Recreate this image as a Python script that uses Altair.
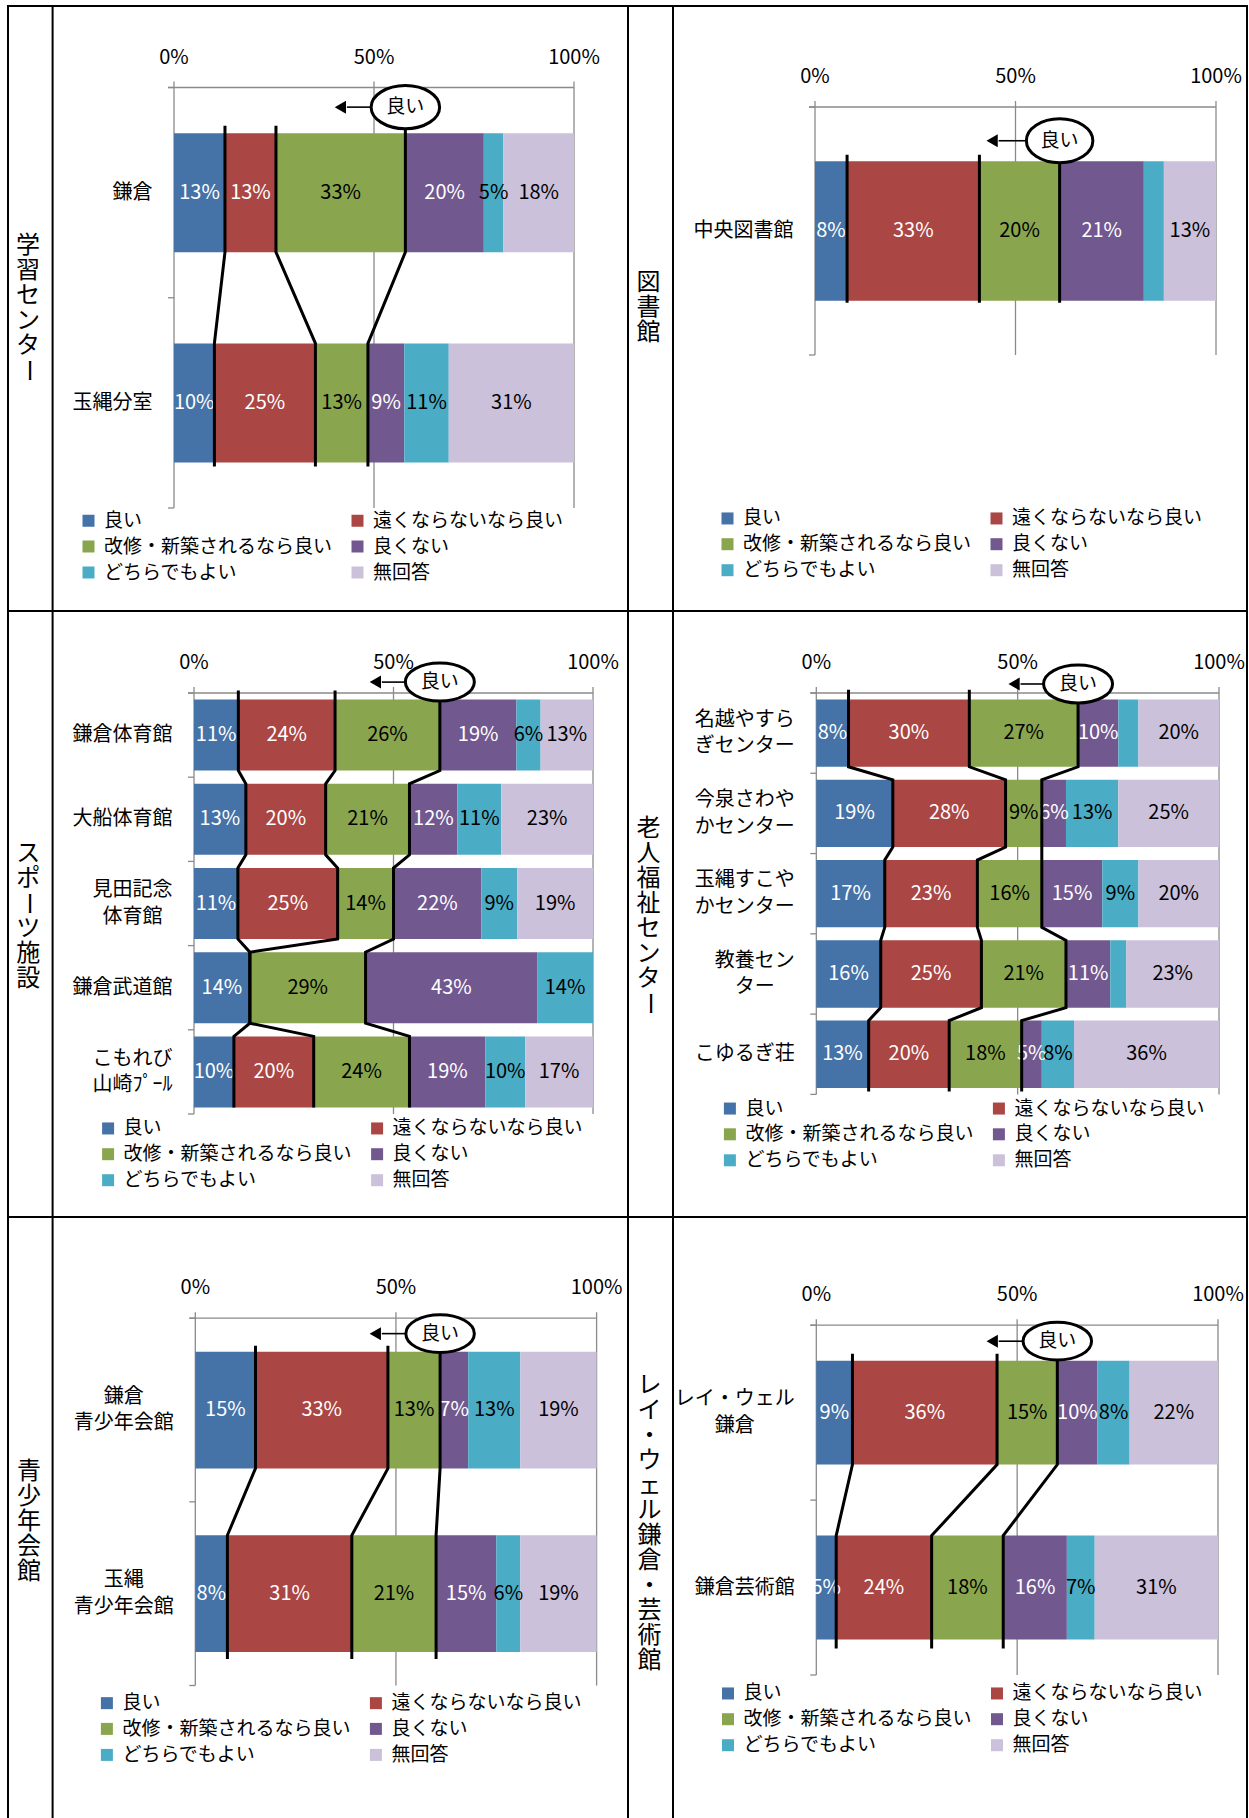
import altair as alt
import pandas as pd

FONT = "Noto Sans CJK JP"

# ---------------- data ----------------
CATEGORIES = ["良い", "遠くならないなら良い", "改修・新築されるなら良い", "良くない", "どちらでもよい", "無回答"]
COLORS = ["#4572A7", "#AA4643", "#89A54E", "#71588F", "#4BACC6", "#CCC1DA"]
LABEL_COLORS = ["white", "white", "black", "white", "black", "black"]
AXIS_TICKS = [0.0, 0.5, 1.0]
AXIS_TICK_LABELS = ["0%", "50%", "100%"]
BADGE_TEXT = "良い"

gakushu_title = "学習センター"
gakushu_names = ["鎌倉", "玉縄分室"]
gakushu_values = [[13, 13, 33, 20, 5, 18], [10, 25, 13, 9, 11, 31]]
gakushu_hidden = []

tosho_title = "図書館"
tosho_names = ["中央図書館"]
tosho_values = [[8, 33, 20, 21, 5, 13]]
tosho_hidden = [(0, 4)]

sports_title = "スポーツ施設"
sports_names = ["鎌倉体育館", "大船体育館", "見田記念\n体育館", "鎌倉武道館", "こもれび\n山崎ﾌﾟｰﾙ"]
sports_values = [[11, 24, 26, 19, 6, 13], [13, 20, 21, 12, 11, 23], [11, 25, 14, 22, 9, 19],
                 [14, 0, 29, 43, 14, 0], [10, 20, 24, 19, 10, 17]]
sports_hidden = []

rojin_title = "老人福祉センター"
rojin_names = ["名越やすら\nぎセンター", "今泉さわや\nかセンター", "玉縄すこや\nかセンター", "教養セン\nター", "こゆるぎ荘"]
rojin_values = [[8, 30, 27, 10, 5, 20], [19, 28, 9, 6, 13, 25], [17, 23, 16, 15, 9, 20],
                [16, 25, 21, 11, 4, 23], [13, 20, 18, 5, 8, 36]]
rojin_hidden = [(0, 4), (3, 4)]

seisho_title = "青少年会館"
seisho_names = ["鎌倉\n青少年会館", "玉縄\n青少年会館"]
seisho_values = [[15, 33, 13, 7, 13, 19], [8, 31, 21, 15, 6, 19]]
seisho_hidden = []

rei_title = "レイ・ウェル鎌倉・芸術館"
rei_names = ["レイ・ウェル\n鎌倉", "鎌倉芸術館"]
rei_values = [[9, 36, 15, 10, 8, 22], [5, 24, 18, 16, 7, 31]]
rei_hidden = []

# ---------------- layout / style ----------------
W, H = 1249, 1818
GRAY = "#8a8a8a"
LINE_H = 26.5
GEO = [
    dict(x0=174, x1=574, yt=87.5, yb=508, bar=119, et=7.5, eb=4, bdy=-26, ew=68.5, er=0.63, tip=71.5, lx=79, ly=521, vx=28, vy=308),
    dict(x0=815, x1=1216, yt=107, yb=355, bar=139.5, et=6.5, eb=2, bdy=-20.5, ew=66.5, er=0.66, tip=74, lx=718, ly=518.7, vx=648.5, vy=308),
    dict(x0=194, x1=593, yt=693, yb=1114, bar=71, et=9, eb=0, bdy=-17.5, ew=69, er=0.55, tip=71, lx=98.6, ly=1128.7, vx=28.3, vy=916),
    dict(x0=816.3, x1=1219, yt=693, yb=1094.4, bar=67.3, et=9.7, eb=3.7, bdy=-15.5, ew=69, er=0.55, tip=70.5, lx=720.4, ly=1108.8, vx=648.5, vy=916),
    dict(x0=195.3, x1=596.6, yt=1318.2, yb=1685.5, bar=116.8, et=6, eb=7, bdy=-18, ew=68.5, er=0.55, tip=71.3, lx=97.4, ly=1703.4, vx=29, vy=1522),
    dict(x0=816.3, x1=1218, yt=1325.2, yb=1675, bar=103.9, et=7, eb=9, bdy=-19.5, ew=68.5, er=0.55, tip=71.6, lx=718.5, ly=1693.7, vx=649.5, vy=1523),
]


def ellipse_path(r):
    k = 0.5523
    return (f"M-1,0C-1,{-k*r:.4f},{-k:.4f},{-r:.4f},0,{-r:.4f}"
            f"C{k:.4f},{-r:.4f},1,{-k*r:.4f},1,0"
            f"C1,{k*r:.4f},{k:.4f},{r:.4f},0,{r:.4f}"
            f"C{-k:.4f},{r:.4f},-1,{k*r:.4f},-1,0Z")


def text_width(s, fs):
    w = 0.0
    for c in s:
        o = ord(c)
        w += 0.5 if (o < 0x2E80 or 0xFF61 <= o <= 0xFF9F) else 1.0
    return w * fs


def make_panel(names, values, hidden, g):
    n = len(names)
    band = (g["yb"] - g["yt"]) / n
    h = g["bar"] / band / 2
    pw = g["x1"] - g["x0"]
    xs = alt.Scale(domain=[0, 1], range=[g["x0"], g["x1"]], nice=False, zero=False)
    ys = alt.Scale(domain=[-0.5, n - 0.5], range=[g["yt"], g["yb"]], nice=False, zero=False)

    def X(f):
        return alt.X(f, type="quantitative", scale=xs, axis=None)

    def Y(f):
        return alt.Y(f, type="quantitative", scale=ys, axis=None)

    seg = []
    for i, vals in enumerate(values):
        tot = sum(vals)
        cum = 0
        for k, v in enumerate(vals):
            s = cum / tot
            cum += v
            e = cum / tot
            seg.append(dict(row=i, cat=CATEGORIES[k], k=k, s=s, e=e, mid=(s + e) / 2,
                            ya=i - h, yb=i + h,
                            lab=("" if v == 0 or (i, k) in hidden else f"{v}%"),
                            tc=LABEL_COLORS[k]))
    seg = pd.DataFrame(seg)

    et = g["et"] / band
    eb = g["eb"] / band
    pts = []
    for b in range(3):
        for i in range(n):
            xb = seg[(seg.row == i) & (seg.k == b)].e.iloc[0]
            pts.append(dict(b=b, seq=2 * i, x=xb, y=i - h - (et if i == 0 else 0)))
            pts.append(dict(b=b, seq=2 * i + 1, x=xb, y=i + h + (eb if i == n - 1 else 0)))
    pts = pd.DataFrame(pts)

    grid = pd.DataFrame(dict(x=AXIS_TICKS, ya=[-0.5] * 3, yb=[n - 0.5] * 3))
    topax = pd.DataFrame(dict(xa=[0.0], xb=[1.0], y=[-0.5]))
    lticks = pd.DataFrame(dict(xa=[0.0] * (n + 1), xb=[0.0] * (n + 1), y=[j - 0.5 for j in range(n + 1)]))
    tlab = pd.DataFrame(dict(x=AXIS_TICKS, y=[-0.5] * 3, lab=AXIS_TICK_LABELS))
    gap = 21.5
    cat = pd.DataFrame(dict(
        row=[i - (len(nm.split("\n")) - 1) * LINE_H / 2 / band for i, nm in enumerate(names)],
        name=names,
        lx=[-(gap + max(text_width(l, 20) for l in nm.split("\n")) / 2) / pw for nm in names]))
    anchor = seg[(seg.row == 0) & (seg.k == 2)].e.iloc[0]
    badge = pd.DataFrame(dict(x=[anchor], y=[-h]))
    dy = g["bdy"]
    head = 13

    layers = [
        alt.Chart(grid).mark_rule(color=GRAY, strokeWidth=1.3, yOffset=-6).encode(x=X("x"), y=Y("ya"), y2="yb"),
        alt.Chart(topax).mark_rule(color=GRAY, strokeWidth=1.3, xOffset=-6).encode(x=X("xa"), x2="xb", y=Y("y")),
        alt.Chart(lticks).mark_rule(color=GRAY, strokeWidth=1.3, xOffset=-6).encode(x=X("xa"), x2="xb", y=Y("y")),
        alt.Chart(seg).mark_rect().encode(
            x=X("s"), x2="e", y=Y("ya"), y2="yb",
            color=alt.Color("cat:N", scale=alt.Scale(domain=CATEGORIES, range=COLORS),
                            legend=alt.Legend(orient="none", legendX=g["lx"], legendY=g["ly"] - 10,
                                              direction="horizontal",
                                              columns=2, columnPadding=15, rowPadding=6,
                                              symbolType="square", symbolSize=144, symbolStrokeWidth=0,
                                              labelFont=FONT, labelFontSize=19, labelColor="black",
                                              labelLimit=500, labelOffset=6, padding=0, title=None))),
        alt.Chart(seg[seg.lab != ""]).mark_text(font=FONT, fontSize=20, baseline="middle").encode(
            x=X("mid"), y=Y("row"), text="lab:N", color=alt.Color("tc:N", scale=None)),
        alt.Chart(pts).mark_line(color="black", strokeWidth=3).encode(
            x=X("x"), y=Y("y"), detail="b:N", order="seq:Q"),
        alt.Chart(tlab).mark_text(font=FONT, fontSize=20, baseline="middle", dy=-30, color="black").encode(
            x=X("x"), y=Y("y"), text="lab:N"),
        alt.Chart(cat).mark_text(font=FONT, fontSize=20, baseline="middle", align="center",
                                 lineBreak="\n", lineHeight=LINE_H, color="black").encode(
            x=X("lx"), y=Y("row"), text="name:N"),
        alt.Chart(badge).mark_rule(color="black", strokeWidth=1.6, xOffset=-g["ew"] / 2,
                                   x2Offset=-(g["tip"] - head), yOffset=dy).encode(
            x=X("x"), x2="x", y=Y("y")),
        alt.Chart(badge).mark_point(shape="triangle-left", size=169, filled=True, color="black", opacity=1,
                                    xOffset=-(g["tip"] - 6.5), yOffset=dy).encode(x=X("x"), y=Y("y")),
        alt.Chart(badge).mark_point(shape=ellipse_path(g["er"]), size=g["ew"] ** 2, filled=True,
                                    fill="white", stroke="black", strokeWidth=3, opacity=1,
                                    yOffset=dy).encode(x=X("x"), y=Y("y")),
        alt.Chart(badge).mark_text(text=BADGE_TEXT, font=FONT, fontSize=19, baseline="middle",
                                   color="black", yOffset=dy).encode(x=X("x"), y=Y("y")),
    ]
    return alt.layer(*layers)


def vertical_title(title, g, pitch=25):
    # runs of upright characters as one multi-line text (first line at the run's first index);
    # the long-vowel mark is rotated as in vertical writing
    n = len(title)
    runs = []
    cur = []
    for i, c in enumerate(title):
        if c == "ー":
            if cur:
                runs.append(dict(txt="\n".join(ch for _, ch in cur), k=float(cur[0][0]), ang=0))
                cur = []
            runs.append(dict(txt=c, k=float(i), ang=90))
        else:
            cur.append((i, c))
    if cur:
        runs.append(dict(txt="\n".join(ch for _, ch in cur), k=float(cur[0][0]), ang=0))
    df = pd.DataFrame(runs)
    half = (n - 1) / 2 * pitch
    return alt.Chart(df).mark_text(font=FONT, fontSize=24, baseline="middle", align="center",
                                   lineBreak="\n", lineHeight=pitch, color="black").encode(
        x=alt.value(g["vx"]),
        y=alt.Y("k:Q", scale=alt.Scale(domain=[0, n - 1], range=[g["vy"] - half, g["vy"] + half],
                                       nice=False, zero=False), axis=None),
        text="txt:N",
        angle=alt.Angle("ang:Q", scale=None))


dummy = pd.DataFrame(dict(a=[0]))
border = []
for yv in [6, 611, 1217]:
    border.append(alt.Chart(dummy).mark_rule(color="black", strokeWidth=2).encode(
        x=alt.value(8), x2=alt.value(1247), y=alt.value(yv)))
for xv in [8, 52.6, 628, 673, 1247]:
    border.append(alt.Chart(dummy).mark_rule(color="black", strokeWidth=2).encode(
        x=alt.value(xv), y=alt.value(5), y2=alt.value(H)))

panels_spec = [
    (gakushu_title, gakushu_names, gakushu_values, gakushu_hidden),
    (tosho_title, tosho_names, tosho_values, tosho_hidden),
    (sports_title, sports_names, sports_values, sports_hidden),
    (rojin_title, rojin_names, rojin_values, rojin_hidden),
    (seisho_title, seisho_names, seisho_values, seisho_hidden),
    (rei_title, rei_names, rei_values, rei_hidden),
]

layers = list(border)
for (title, names, values, hidden), g in zip(panels_spec, GEO):
    layers.append(vertical_title(title, g))
    layers.append(make_panel(names, values, hidden, g))

chart = alt.layer(*layers).resolve_scale(
    x="independent", y="independent", color="independent"
).properties(
    width=W, height=H, padding=0, autosize=alt.AutoSizeParams(type="none"), background="white"
).configure_view(stroke=None)

chart.save("out.html", embed_options={"renderer": "svg", "actions": False})
